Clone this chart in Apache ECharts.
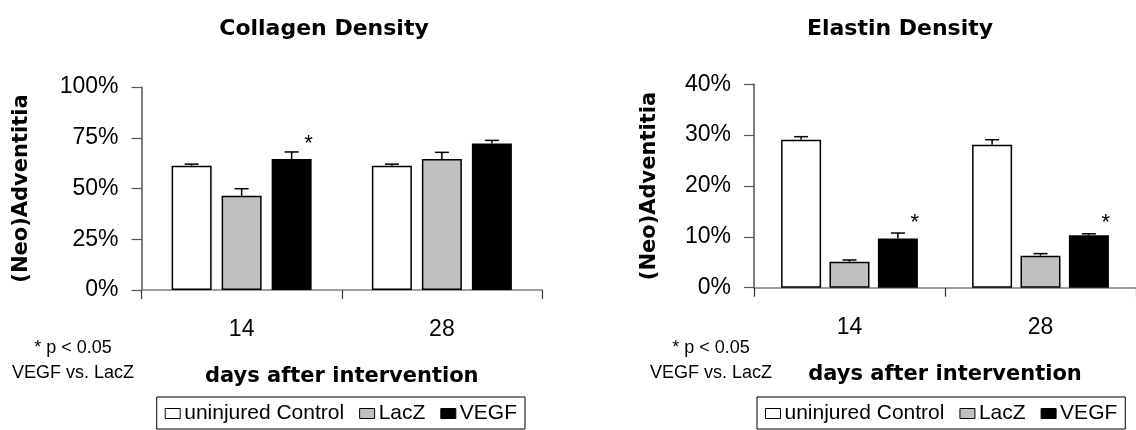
<!DOCTYPE html>
<html>
<head>
<meta charset="utf-8">
<script src="https://cdn.jsdelivr.net/npm/echarts@6/dist/echarts.min.js"></script>
<style>
html,body{margin:0;padding:0;background:#fff;}
#chart{width:1136px;height:430px;}
</style>
</head>
<body>
<div id="chart"></div>
<script>
// ---- data ----
const categories = ['14', '28'];
const seriesNames = ['uninjured Control', 'LacZ', 'VEGF'];

const collagenControl = [61.2, 61.2];
const collagenLacZ = [46.4, 64.5];
const collagenVEGF = [64.5, 72.2];
const collagenControlErr = [0.8, 0.8];
const collagenLacZErr = [3.5, 3.3];
const collagenVEGFErr = [3.5, 1.5];
const collagenStarY = [74.5, null];

const elastinControl = [29.1, 28.1];
const elastinLacZ = [5.1, 6.3];
const elastinVEGF = [9.7, 10.3];
const elastinControlErr = [0.6, 1.0];
const elastinLacZErr = [0.35, 0.4];
const elastinVEGFErr = [1.05, 0.3];
const elastinStarY = [13.7, 13.7];

const collagenAxis = {min: 0, max: 100, interval: 25};
const elastinAxis = {min: 0, max: 40, interval: 10};

const titles = ['Collagen Density', 'Elastin Density'];
const yName = '(Neo)Adventitia';
const xName = 'days after intervention';
const noteLines = ['* p < 0.05', 'VEGF vs. LacZ'];

// ---- styles ----
const colors = ['#ffffff', '#c0c0c0', '#000000'];
const REG = 'Liberation Sans, Arial, sans-serif';
const BOLD = 'DejaVu Sans, sans-serif';
const BAR_W = 40;
const gapRatio = [0.25, 0.21];

const chart = echarts.init(document.getElementById('chart'), null, {renderer: 'canvas'});

function errRender(gi) {
  return function (params, api) {
    const cat = api.value(0), v = api.value(1), e = api.value(2), k = api.value(3);
    const off = (k - 1) * BAR_W * (1 + gapRatio[gi]);
    const b = api.coord([cat, v]);
    const t = api.coord([cat, v + e]);
    const x = b[0] + off;
    const st = {stroke: '#000', lineWidth: 1.5};
    return {type: 'group', children: [
      {type: 'line', shape: {x1: x, y1: b[1], x2: x, y2: t[1]}, style: st},
      {type: 'line', shape: {x1: x - 7, y1: t[1], x2: x + 7, y2: t[1]}, style: st}
    ]};
  };
}
function starRender(gi) {
  return function (params, api) {
    const cat = api.value(0), y = api.value(1);
    if (y == null || isNaN(y)) return null;
    const off = BAR_W * (1 + gapRatio[gi]);
    const p = api.coord([cat, y]);
    return {type: 'text', x: p[0] + off + 17, y: p[1] + 5,
      style: {text: '*', fill: '#000', font: '22px ' + REG, align: 'center', verticalAlign: 'middle'}};
  };
}

const panels = [
  {vals: [collagenControl, collagenLacZ, collagenVEGF], errs: [collagenControlErr, collagenLacZErr, collagenVEGFErr], star: collagenStarY},
  {vals: [elastinControl, elastinLacZ, elastinVEGF], errs: [elastinControlErr, elastinLacZErr, elastinVEGFErr], star: elastinStarY}
];

const series = [];
panels.forEach((p, gi) => {
  p.vals.forEach((vals, k) => {
    series.push({
      type: 'bar', name: seriesNames[k], xAxisIndex: gi, yAxisIndex: gi,
      data: vals, barWidth: BAR_W, barGap: (gapRatio[gi] * 100) + '%',
      itemStyle: {color: colors[k], borderColor: '#000', borderWidth: 1.5},
      emphasis: {disabled: true}, silent: true, z: 2
    });
  });
  p.vals.forEach((vals, k) => {
    series.push({
      type: 'custom', xAxisIndex: gi, yAxisIndex: gi, renderItem: errRender(gi),
      encode: {x: 0, y: 1},
      data: categories.map((c, i) => [i, vals[i], p.errs[k][i], k]), z: 3, silent: true
    });
  });
  series.push({
    type: 'custom', xAxisIndex: gi, yAxisIndex: gi, renderItem: starRender(gi),
    encode: {x: 0, y: 1},
    data: categories.map((c, i) => [i, p.star[i]]), z: 4, silent: true
  });
});

function xAxis(gi) {
  return {
    type: 'category', gridIndex: gi, data: categories,
    axisLine: {lineStyle: {color: '#808080', width: 1.5}},
    axisTick: {show: true, length: 9, interval: 0, lineStyle: {color: '#333', width: 1.2}},
    axisLabel: {color: '#000', fontSize: 23, fontFamily: REG, margin: 28},
    name: xName, nameLocation: 'middle', nameGap: 76,
    nameTextStyle: {color: '#000', fontSize: 21, fontWeight: 'bold', fontFamily: BOLD}
  };
}
function yAxis(gi, ax, gap, margin) {
  return {
    type: 'value', gridIndex: gi, min: ax.min, max: ax.max, interval: ax.interval,
    axisLine: {show: true, lineStyle: {color: '#555', width: 1.5}},
    axisTick: {show: true, length: 10, lineStyle: {color: '#555', width: 1.2}},
    splitLine: {show: false},
    axisLabel: {color: '#000', fontSize: 23, fontFamily: REG, margin: margin, formatter: '{value}%'},
    name: yName, nameLocation: 'middle', nameGap: gap, nameRotate: 90,
    nameTextStyle: {color: '#000', fontSize: 21, fontWeight: 'bold', fontFamily: BOLD}
  };
}

function legend(pos) {
  return Object.assign({
    top: 397, orient: 'horizontal', icon: 'rect', itemWidth: 15, itemHeight: 10, itemGap: 15,
    padding: [6, 8, 5, 8], borderColor: '#000', borderWidth: 1, selectedMode: false,
    textStyle: {color: '#000', fontSize: 21, fontFamily: REG, padding: [0, 0, 0, -1]},
    data: seriesNames.map((n, k) => ({name: n, itemStyle: {color: colors[k], borderColor: '#000', borderWidth: 1}}))
  }, pos);
}

function txt(x, y, text, font) {
  return {type: 'text', x: x, y: y, style: {text: text, font: font, fill: '#000', align: 'center', verticalAlign: 'middle'}};
}

const option = {
  animation: false,
  backgroundColor: '#fff',
  grid: [
    {left: 141.5, top: 87, width: 400.5, height: 203},
    {left: 754, top: 84.3, width: 391, height: 203.4}
  ],
  xAxis: [xAxis(0), xAxis(1)],
  yAxis: [yAxis(0, collagenAxis, 109, 23), yAxis(1, elastinAxis, 94, 23)],
  legend: [legend({right: 611}), legend({left: 757})],
  series: series,
  graphic: [
    txt(324, 29, titles[0], 'bold 22px ' + BOLD),
    txt(900, 29, titles[1], 'bold 22px ' + BOLD),
    txt(73, 348, noteLines[0], '18px ' + REG),
    txt(73, 373, noteLines[1], '18px ' + REG),
    txt(711, 348, noteLines[0], '18px ' + REG),
    txt(711, 373, noteLines[1], '18px ' + REG)
  ]
};
chart.setOption(option);
</script>
</body>
</html>
